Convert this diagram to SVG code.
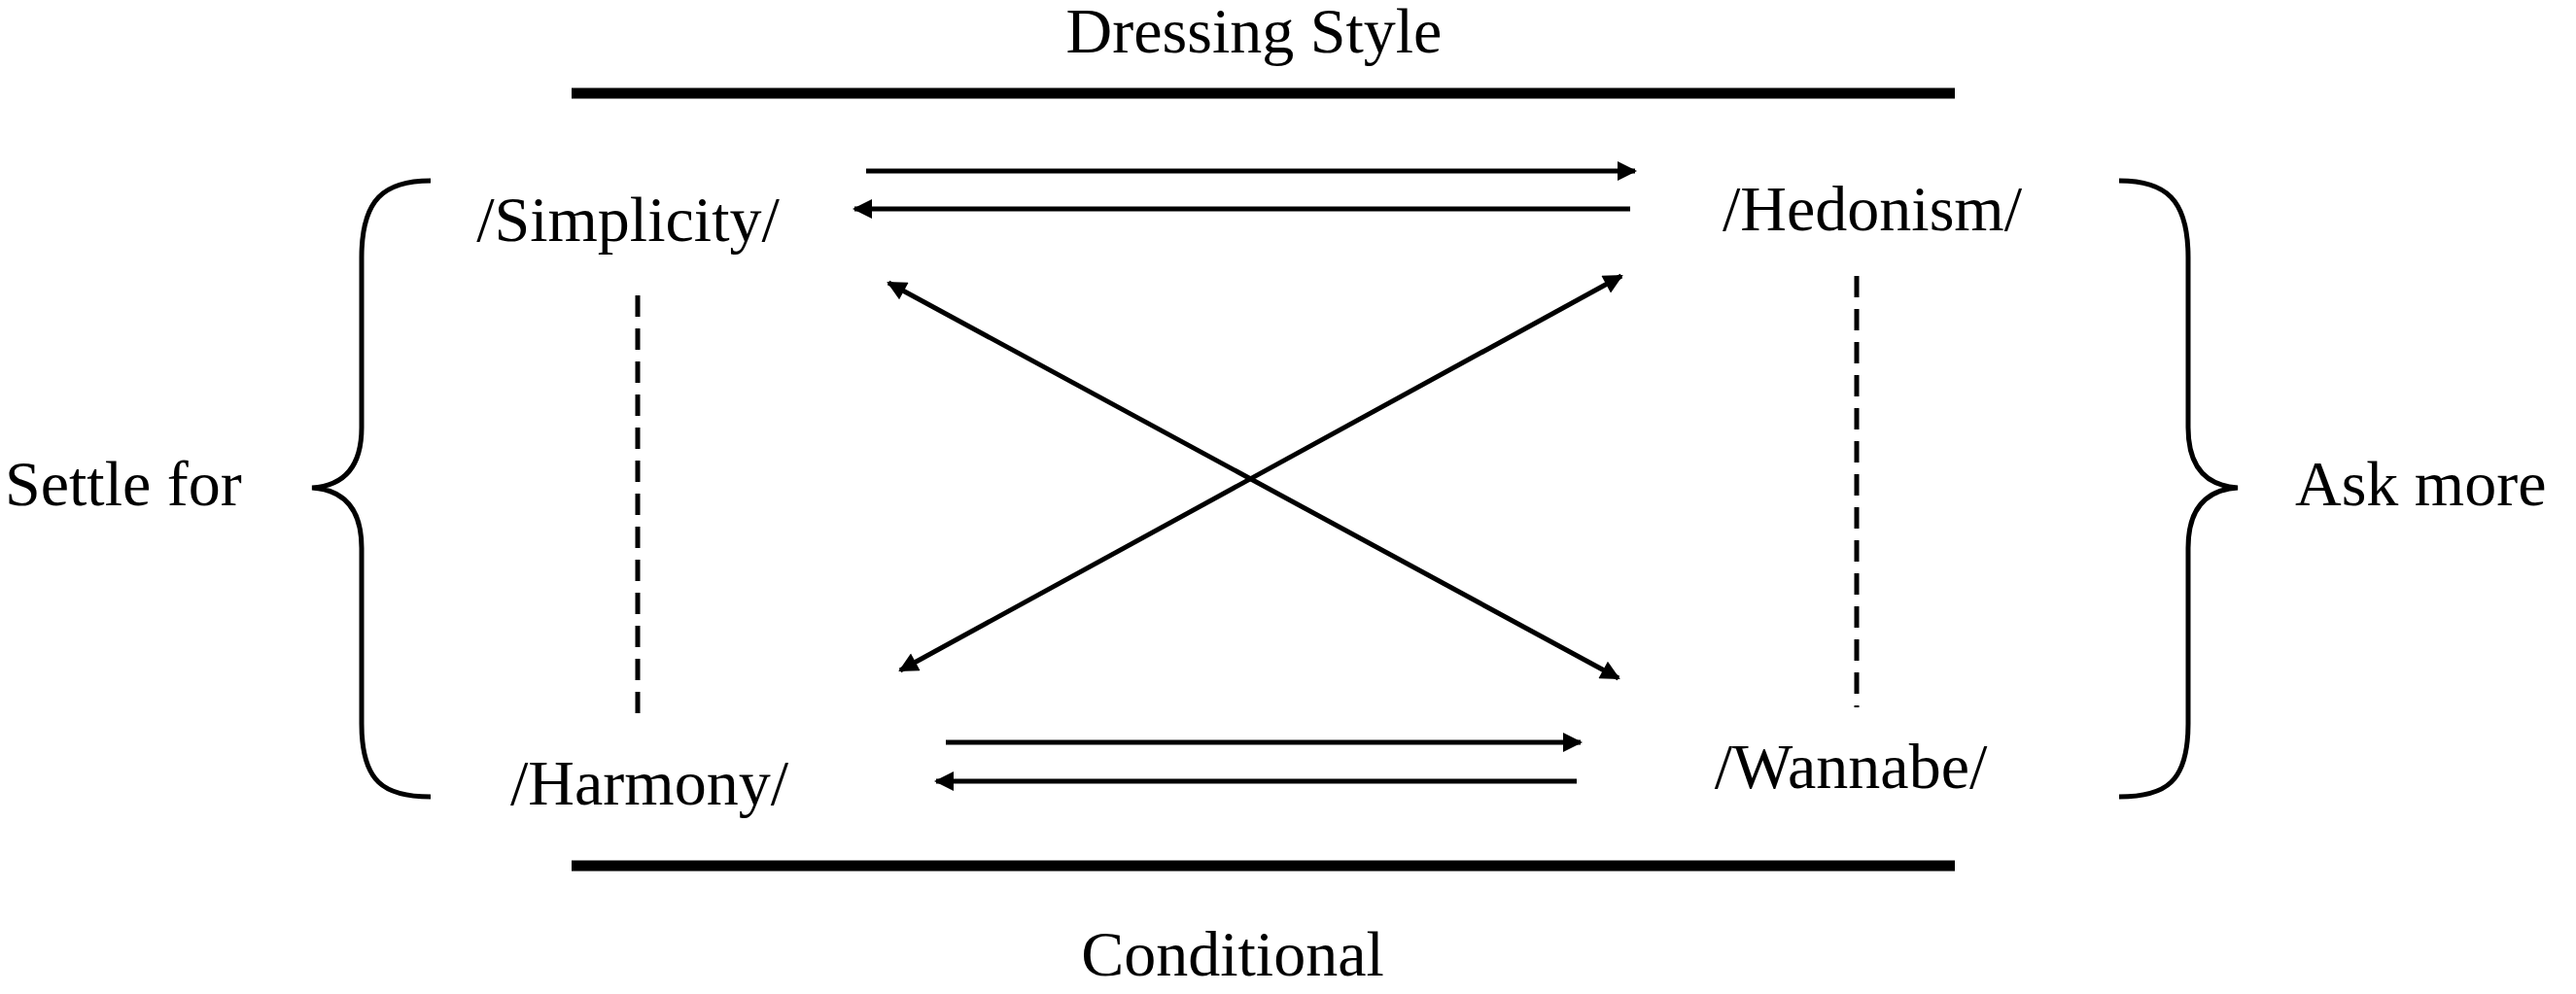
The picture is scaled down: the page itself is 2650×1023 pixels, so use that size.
<svg xmlns="http://www.w3.org/2000/svg" width="2650" height="1023" viewBox="0 0 2650 1023">
<style>
text{font-family:"Liberation Serif","Times New Roman",serif;font-size:66px;fill:#000}
.c{stroke:#000;stroke-width:5;fill:none}
.d{stroke:#000;stroke-width:5;stroke-dasharray:22 12;fill:none}
.bar{stroke:#000;stroke-width:11}
</style>
<defs>
<marker id="a" viewBox="0 0 10 10" refX="9" refY="5" markerWidth="5" markerHeight="4" orient="auto-start-reverse" markerUnits="strokeWidth"><path d="M0,0 L10,5 L0,10 z" fill="#000"/></marker>
</defs>
<rect width="2650" height="1023" fill="#fff"/>
<g id="title"><text x="1290" y="54" text-anchor="middle">Dressing Style</text><line class="bar" x1="588" y1="96" x2="2011" y2="96"/></g>
<g id="conditional"><text x="1268" y="1004" text-anchor="middle">Conditional</text><line class="bar" x1="588" y1="891" x2="2011" y2="891"/></g>
<g id="simplicity"><text x="646" y="248" text-anchor="middle">/Simplicity/</text></g>
<g id="hedonism"><text x="1926" y="237" text-anchor="middle">/Hedonism/</text></g>
<g id="harmony"><text x="668" y="828" text-anchor="middle">/Harmony/</text></g>
<g id="wannabe"><text x="1904" y="811" text-anchor="middle">/Wannabe/</text></g>
<g id="settle"><text x="5" y="520">Settle for</text><path class="c" d="M443,186 C395,186 372,205 372,265 L372,440 C372,482 352,500 321,502 C352,504 372,522 372,564 L372,745 C372,805 395,820 443,820"/></g>
<g id="askmore"><text x="2361" y="520">Ask more</text><path class="c" d="M2180,186 C2228,186 2251,205 2251,265 L2251,440 C2251,482 2271,500 2302,502 C2271,504 2251,522 2251,564 L2251,745 C2251,805 2228,820 2180,820"/></g>
<g id="connectors">
<line class="c" x1="891" y1="176" x2="1682" y2="176" marker-end="url(#a)"/>
<line class="c" x1="1677" y1="215" x2="879" y2="215" marker-end="url(#a)"/>
<line class="c" x1="973" y1="764" x2="1626" y2="764" marker-end="url(#a)"/>
<line class="c" x1="1622" y1="804" x2="963" y2="804" marker-end="url(#a)"/>
<line class="c" x1="914" y1="291" x2="1665" y2="698" marker-start="url(#a)" marker-end="url(#a)"/>
<line class="c" x1="1668" y1="284" x2="926" y2="690" marker-start="url(#a)" marker-end="url(#a)"/>
<line class="d" x1="656" y1="304" x2="656" y2="746"/>
<line class="d" x1="1910" y1="284" x2="1910" y2="728"/>
</g>
</svg>
